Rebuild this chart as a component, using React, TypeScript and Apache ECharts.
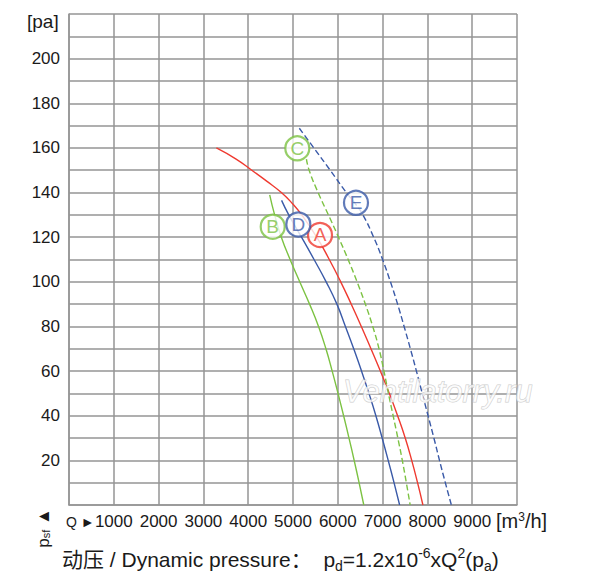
import { useEffect, useRef } from "react";
import * as echarts from "echarts";

// flow Q [m3/h], static pressure psf [pa]
const curveA = [
  [3290, 160], [3730, 155], [4080, 150], [4420, 145], [4740, 140], [4990, 135],
  [5195, 130], [5530, 120], [5810, 110], [6065, 100], [6300, 90], [6525, 80],
  [6740, 70], [6950, 60], [7150, 50], [7335, 40], [7505, 30], [7650, 20], [7780, 10], [7900, 0],
];
const curveB = [
  [4480, 139], [4590, 130], [4740, 120], [4935, 110], [5150, 100], [5370, 90],
  [5570, 80], [5735, 70], [5875, 60], [6005, 50], [6130, 40], [6250, 30],
  [6365, 20], [6475, 10], [6580, 0],
];
const curveC = [
  [5300, 155], [5360, 150], [5560, 140], [5790, 130], [6015, 120], [6230, 110],
  [6430, 100], [6615, 90], [6780, 80], [6920, 70], [7030, 60], [7130, 50],
  [7235, 40], [7340, 30], [7440, 20], [7530, 10], [7615, 0],
];
const curveD = [
  [4745, 136.5], [4905, 130], [5190, 120], [5470, 110], [5740, 100], [5980, 90],
  [6170, 80], [6355, 70], [6530, 60], [6695, 50], [6850, 40], [6990, 30],
  [7125, 20], [7255, 10], [7380, 0],
];
const curveE = [
  [5141, 168.8], [5465, 160], [5830, 150], [6190, 140], [6390, 135], [6560, 130],
  [6800, 120], [7000, 110], [7175, 100], [7335, 90], [7480, 80], [7620, 70],
  [7755, 60], [7885, 50], [8015, 40], [8145, 30], [8270, 20], [8400, 10], [8535, 0],
];

const markerLetters = ["A", "B", "C", "D", "E"];
const markerQ = [5603, 4547, 5096, 5119, 6406];
const markerP = [121, 124.7, 159.8, 125.7, 135.4];

const RED = "#ef3a30";
const GREEN = "#7cc242";
const BLUE = "#3a5aa8";
const markerColors = [RED, GREEN, GREEN, BLUE, BLUE];

const FONT = "'Liberation Sans', Arial, 'Noto Sans CJK SC', sans-serif";
const GRID_COLOR = "#959595";
const TEXT_COLOR = "#1a1a1a";

export default function App() {
  const chartRef = useRef<HTMLDivElement | null>(null);

  useEffect(() => {
    if (!chartRef.current) {
      return;
    }
    const chart = echarts.init(chartRef.current, null, { renderer: "svg" });

    const line = (data: number[][], color: string, dashed: boolean) => ({
      type: "line",
      data,
      smooth: 0.5,
      showSymbol: false,
      symbol: "none",
      z: 3,
      lineStyle: { color, width: 1.4, type: dashed ? [6, 3] : "solid" },
    });

    chart.setOption({
      animation: false,
      grid: { left: 69, right: 83, top: 14, bottom: 77 },
      xAxis: {
        type: "value",
        min: 0,
        max: 10000,
        interval: 1000,
        axisLine: { show: true, lineStyle: { color: GRID_COLOR, width: 1.5 } },
        axisTick: { show: false },
        axisLabel: {
          margin: 8,
          color: TEXT_COLOR,
          fontSize: 17,
          fontFamily: FONT,
          formatter: (v: number) => (v === 0 || v === 10000 ? "" : String(v)),
        },
        splitLine: { show: true, lineStyle: { color: GRID_COLOR, width: 1.5 } },
      },
      yAxis: {
        type: "value",
        min: 0,
        max: 220,
        interval: 10,
        axisLine: { show: true, lineStyle: { color: GRID_COLOR, width: 1.5 } },
        axisTick: { show: false },
        axisLabel: {
          margin: 9,
          color: TEXT_COLOR,
          fontSize: 17,
          fontFamily: FONT,
          formatter: (v: number) => (v > 0 && v <= 200 && v % 20 === 0 ? String(v) : ""),
        },
        splitLine: { show: true, lineStyle: { color: GRID_COLOR, width: 1.5 } },
      },
      series: [
        line(curveA, RED, false),
        line(curveB, GREEN, false),
        line(curveC, GREEN, true),
        line(curveD, BLUE, false),
        line(curveE, BLUE, true),
        {
          type: "scatter",
          z: 5,
          symbol: "circle",
          symbolSize: 24,
          data: markerLetters.map((letter, i) => ({
            value: [markerQ[i], markerP[i]],
            name: letter,
            itemStyle: { color: "#ffffff", borderColor: markerColors[i], borderWidth: 2.2 },
            label: {
              show: true,
              position: "inside",
              formatter: letter,
              color: markerColors[i],
              fontSize: 19,
              fontFamily: FONT,
            },
          })),
        },
      ],
      graphic: [
        {
          type: "text",
          left: 27,
          top: 12,
          style: { text: "[pa]", fontSize: 19, fontFamily: FONT, fill: TEXT_COLOR },
        },
        {
          type: "text",
          x: 66,
          y: 522,
          style: {
            text: "Q ►",
            fontSize: 14,
            fontFamily: FONT,
            fill: TEXT_COLOR,
            verticalAlign: "middle",
          },
        },
        {
          type: "text",
          x: 496,
          y: 521,
          style: {
            text: "[m{sup|3}/h]",
            fontSize: 20,
            fontFamily: FONT,
            fill: TEXT_COLOR,
            verticalAlign: "middle",
            rich: { sup: { fontSize: 12, fontFamily: FONT, fill: TEXT_COLOR, verticalAlign: "top" } },
          },
        },
        {
          type: "text",
          x: 43,
          y: 528,
          rotation: Math.PI / 2,
          style: {
            text: "p{sub|sf} ▲",
            fontSize: 17,
            fontFamily: FONT,
            fill: TEXT_COLOR,
            align: "center",
            verticalAlign: "middle",
            rich: { sub: { fontSize: 11, fontFamily: FONT, fill: TEXT_COLOR, verticalAlign: "bottom" } },
          },
        },
        {
          type: "text",
          x: 343,
          y: 391,
          z: 20,
          style: {
            text: "Ventilatorry.ru",
            fontSize: 31,
            fontStyle: "italic",
            fontFamily: FONT,
            fill: "rgba(255,255,255,0.72)",
            stroke: "rgba(190,190,190,0.8)",
            lineWidth: 1,
            verticalAlign: "middle",
          },
        },
        {
          type: "text",
          x: 62,
          y: 559,
          style: {
            text: "动压 / Dynamic pressure：  p{sub|d}=1.2x10{sup|-6}xQ{sup|2}(p{sub|a})",
            fontSize: 21,
            fontFamily: FONT,
            fill: TEXT_COLOR,
            verticalAlign: "middle",
            lineHeight: 27,
            rich: {
              sub: { fontSize: 14, fontFamily: FONT, fill: TEXT_COLOR, verticalAlign: "bottom" },
              sup: { fontSize: 14, fontFamily: FONT, fill: TEXT_COLOR, verticalAlign: "top" },
            },
          },
        },
      ],
    });

    return () => {
      chart.dispose();
    };
  }, []);

  return (
    <div
      ref={chartRef}
      style={{ position: "absolute", left: 0, top: 0, width: 600, height: 582 }}
      aria-label="Fan performance curves"
    />
  );
}
